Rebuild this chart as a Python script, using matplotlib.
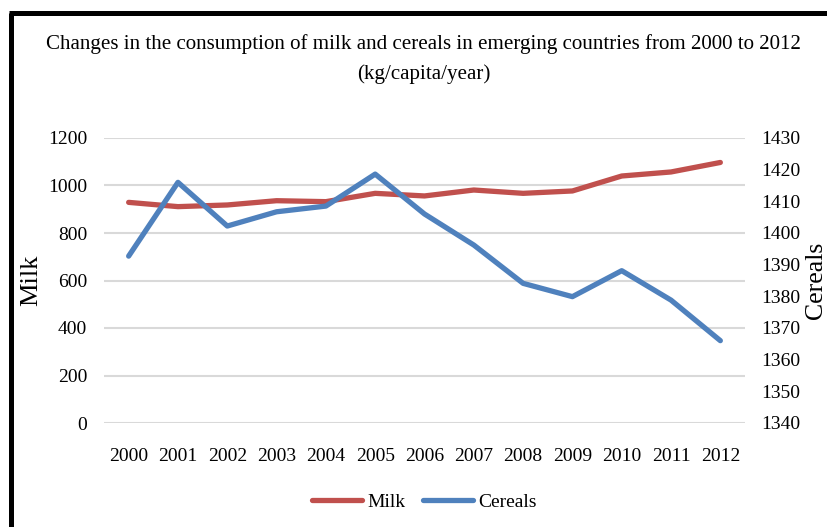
import matplotlib
matplotlib.use("Agg")
import matplotlib.pyplot as plt
from matplotlib.lines import Line2D

years = ["2000", "2001", "2002", "2003", "2004", "2005", "2006",
         "2007", "2008", "2009", "2010", "2011", "2012"]
milk = [929, 911, 918, 936, 932, 967, 956, 981, 967, 977, 1040, 1057, 1097]
cereals = [1392.7, 1416.0, 1402.2, 1406.7, 1408.5, 1418.6, 1406.0,
           1396.2, 1384.1, 1379.9, 1388.1, 1378.8, 1366.0]
milk_ticks = [0, 200, 400, 600, 800, 1000, 1200]
cereal_ticks = [1340, 1350, 1360, 1370, 1380, 1390, 1400, 1410, 1420, 1430]

title = "Changes in the consumption of milk and cereals in emerging countries from 2000 to 2012\n(kg/capita/year)"

RED = "#C0504D"
BLUE = "#4F81BD"
FONT = "Liberation Serif"
FS = 14

plt.rcParams["font.family"] = [FONT, "DejaVu Serif"]

W, H = 828, 527
fig = plt.figure(figsize=(W / 100, H / 100), dpi=100)
AX_L, AX_R = 104, 745
ax = fig.add_axes([AX_L / W, 1 - 423 / H, (AX_R - AX_L) / W, (423 - 138) / H])
ax2 = ax.twinx()

x = list(range(len(years)))
l1, = ax.plot(x, milk, color=RED, lw=3.8, solid_capstyle="round", solid_joinstyle="round", zorder=3)
l2, = ax2.plot(x, cereals, color=BLUE, lw=3.8, solid_capstyle="round", solid_joinstyle="round", zorder=3)

ax.set_xlim(-0.5, len(years) - 0.5)
ax.set_ylim(0, 1200)
ax2.set_ylim(1340, 1430)
ax.set_yticks(milk_ticks)
ax2.set_yticks(cereal_ticks)
ax.set_xticks(x)
ax.set_xticklabels(years)

ax.grid(axis="y", color="#D9D9D9", lw=1.5)
ax.set_axisbelow(True)
for a in (ax, ax2):
    for s in a.spines.values():
        s.set_visible(False)
ax.tick_params(axis="both", length=0, labelsize=FS)
ax.tick_params(axis="y", pad=12)
ax.tick_params(axis="x", pad=18)
ax2.tick_params(axis="y", length=0, labelsize=FS, pad=12)

ax.set_ylabel("Milk", fontsize=19)
ax2.set_ylabel("Cereals", fontsize=18.5)
ax.yaxis.set_label_coords((42 - AX_L) / (AX_R - AX_L), 0.5)
ax2.yaxis.set_label_coords((805 - AX_L) / (AX_R - AX_L), 0.5)

fig.text(0.5 * (47 + 800) / W, 1 - 59 / H, title, ha="center", va="center",
         fontsize=15.1, linespacing=1.75)

fig.legend([l1, l2], ["Milk", "Cereals"], loc="center", bbox_to_anchor=(424 / W, 1 - 502 / H),
           ncol=2, frameon=False, fontsize=FS, handlelength=2.6, handletextpad=0.25,
           columnspacing=0.9)

# outer frame (top and left edges visible)
fig.add_artist(Line2D([11.5 / W, 11.5 / W], [0, 1 - 12.5 / H], transform=fig.transFigure,
                      color="black", lw=3.6, solid_capstyle="butt"))
fig.add_artist(Line2D([9 / W, 1], [1 - 12.5 / H, 1 - 12.5 / H], transform=fig.transFigure,
                      color="black", lw=3.6, solid_capstyle="butt"))

fig.savefig("out.png", dpi=100)
